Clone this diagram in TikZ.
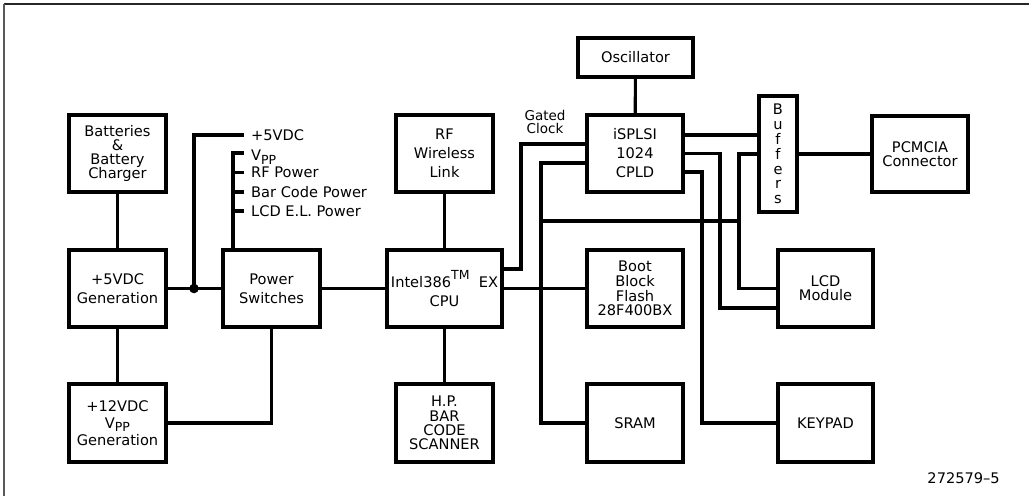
\documentclass[tikz,border=0pt]{standalone}
\usepackage{fontspec}
\setmainfont{DejaVu Sans}
\begin{document}
\begin{tikzpicture}[x=1pt,y=-1pt,
  blk/.style={draw,line width=3.1pt,inner sep=0pt,align=center,font=\fontsize{14.6}{19}\selectfont},
  tight/.style={font=\fontsize{14.6}{14.3}\selectfont},
  wire/.style={line width=3.1pt,line cap=rect},
  lbl/.style={inner sep=0pt,font=\fontsize{14.6}{14}\selectfont},
  every node/.style={text=black}]
\useasboundingbox (0,0) rectangle (1029,496);
% frame
\draw[line width=2pt,black!85] (4,4) -- (1029,4);
\draw[line width=2pt,black!65] (4,4) -- (4,496);
% blocks
\node[blk,tight,minimum width=97pt,minimum height=77pt] (bat) at (117.5,153.5) {Batteries\\\&\\Battery\\Charger};
\node[blk,minimum width=97pt,minimum height=77pt] (gen5) at (117.5,288.5) {+5VDC\\Generation};
\node[blk,font=\fontsize{14.6}{17}\selectfont,minimum width=97pt,minimum height=78pt] (gen12) at (117.5,423) {+12VDC\\V\raisebox{-0.45ex}{\fontsize{12.5}{12}\selectfont PP}\\Generation};
\node[blk,minimum width=97pt,minimum height=77pt] (psw) at (271.5,288.5) {Power\\Switches};
\node[blk,minimum width=115pt,minimum height=77pt] (cpu) at (444.5,288.5) {Intel386\raisebox{0.9ex}{\fontsize{12.5}{12}\selectfont TM}\ \ EX\\CPU};
\node[blk,minimum width=97pt,minimum height=77pt] (rf) at (444.5,153.5) {RF\\Wireless\\Link};
\node[blk,tight,minimum width=97pt,minimum height=78pt] (hp) at (444.5,423) {H.P.\\BAR\\CODE\\SCANNER};
\node[blk,minimum width=115pt,minimum height=39pt] (osc) at (635.5,57.5) {Oscillator};
\node[blk,minimum width=96pt,minimum height=77pt] (cpld) at (635,153.5) {iSPLSI\\1024\\CPLD};
\node[blk,font=\fontsize{14.6}{14.6}\selectfont,minimum width=96pt,minimum height=77pt] (boot) at (635,288.5) {Boot\\Block\\Flash\\28F400BX};
\node[blk,minimum width=96pt,minimum height=78pt] (sram) at (635,423) {SRAM};
\node[blk,font=\fontsize{14.6}{14.8}\selectfont,minimum width=38pt,minimum height=116pt] (buf) at (778,154) {B\\u\\f\\f\\e\\r\\s};
\node[blk,tight,minimum width=96pt,minimum height=76pt] (pcm) at (920,154) {PCMCIA\\Connector};
\node[blk,tight,minimum width=95pt,minimum height=77pt] (lcd) at (825.5,288.5) {LCD\\Module};
\node[blk,minimum width=95pt,minimum height=78pt] (key) at (825.5,423) {KEYPAD};
% power section
\draw[wire] (bat) -- (gen5);
\draw[wire] (gen5) -- (gen12);
\draw[wire] (gen5) -- (psw);
\coordinate (j) at (194,288.5);
\fill (j) circle (4.8pt);
\coordinate (p5) at (242,135);
\draw[wire] (j) |- (p5);
\node[lbl,anchor=west] (l5) at (251,135) {+5VDC};
\coordinate (vt) at (233,153);
\draw[wire] (psw.north -| vt) -- (vt) -- (242,153);
\draw[wire] (233,172.5) -- (242,172.5);
\draw[wire] (233,192) -- (242,192);
\draw[wire] (233,211) -- (242,211);
\node[lbl,anchor=west] (lvpp) at (251,157) {V\raisebox{-0.45ex}{\fontsize{12.5}{12}\selectfont PP}};
\node[lbl,anchor=west] (lrf) at (251,172.5) {RF Power};
\node[lbl,anchor=west] (lbc) at (251,192) {Bar Code Power};
\node[lbl,anchor=west] (llcd) at (251,211) {LCD E.L. Power};
\draw[wire] (psw.south) |- (gen12.east);
\draw[wire] (psw) -- (cpu);
\draw[wire] (rf) -- (cpu);
\draw[wire] (cpu) -- (hp);
% CPU to CPLD / memory
\node[lbl,align=center,font=\fontsize{13.5}{13.5}\selectfont] (gc) at (545,122) {Gated\\Clock};
\draw[wire] (cpu.east |- 0,269) -| (521,144) -- (cpld.west |- 0,144);
\draw[wire] (cpu.east) -- (boot.west);
\draw[wire] (cpld.west |- 0,163) -| (541,423) -- (sram.west);
\draw[wire] (541,221) -- (739,221);
\draw[wire] (osc) -- (cpld);
\draw[wire] (cpld.east |- 0,135) -- (buf.west |- 0,135);
\draw[wire] (cpld.east |- 0,153.5) -| (720,308) -- (lcd.west |- 0,308);
\draw[wire] (cpld.east |- 0,172) -| (702,423) -- (key.west);
\draw[wire] (buf.west |- 0,154) -| (739,288.5) -- (lcd.west);
\draw[wire] (buf.east) -- (pcm.west);
\node[lbl,anchor=east] (fig) at (1000,478) {272579–5};
\end{tikzpicture}
\end{document}
